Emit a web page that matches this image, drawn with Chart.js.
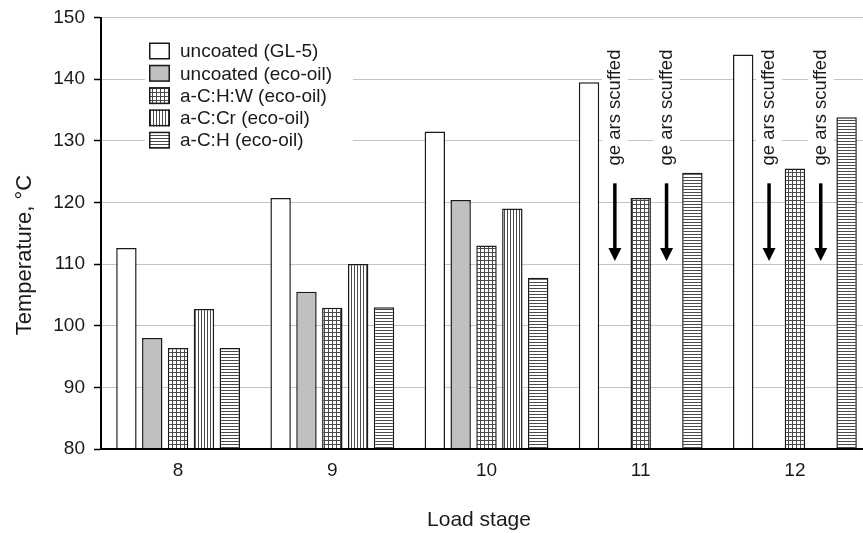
<!DOCTYPE html>
<html>
<head>
<meta charset="utf-8">
<title>Temperature vs load stage</title>
<script src="https://cdn.jsdelivr.net/npm/chart.js@4.4.1/dist/chart.umd.min.js"></script>
<style>
    html, body { margin: 0; padding: 0; background: #fff; overflow: hidden; }
    #chart-wrap { width: 875px; height: 533px; }
</style>
</head>
<body>
<div id="chart-wrap"><canvas id="temperature-chart" width="875" height="533"></canvas></div>
<script>
// Chart data
const loadStages = ['8', '9', '10', '11', '12'];
const seriesNames = ['uncoated (GL-5)', 'uncoated (eco-oil)', 'a-C:H:W (eco-oil)', 'a-C:Cr (eco-oil)', 'a-C:H (eco-oil)'];
const uncoatedGL5 = [112.6, 120.7, 131.5, 139.5, 144.0];
const uncoatedEco = [98.0, 105.5, 120.4, null, null];
const coatedCHW = [96.4, 102.9, 113.0, 120.7, 125.5];
const coatedCCr = [102.7, 110.0, 119.0, null, null];
const coatedCH = [96.4, 103.0, 107.8, 124.8, 133.8];
const yMin = 80;
const yMax = 150;
const yStep = 10;
const xTitle = 'Load stage';
const yTitle = 'Temperature, °C';

// Scuffing notes: [stage index, series index]
const scuffedLabel = 'ge ars scuffed';
const scuffedMarks = [[3, 1], [3, 3], [4, 1], [4, 3]];
const scuffedTextFrom = 126;
const arrowFrom = 123.1;
const arrowTo = 110.5;

const textColor = '#1a1a1a';
const fontFamily = '"Liberation Sans", Arial, sans-serif';

Chart.defaults.font.family = fontFamily;
Chart.defaults.color = textColor;

// Fill patterns like the old b/w chart
function makePattern(ctx, kind) {
    const size = kind === 'grid' ? 4 : 3;
    const c = document.createElement('canvas');
    c.width = size;
    c.height = size;
    const p = c.getContext('2d');
    p.fillStyle = '#fff';
    p.fillRect(0, 0, size, size);
    p.fillStyle = '#4a4a4a';
    if (kind === 'grid') {
        p.fillRect(0, 0, size, 1);
        p.fillRect(0, 0, 1, size);
    } else if (kind === 'vertical') {
        p.fillRect(0, 0, 1, size);
    } else if (kind === 'horizontal') {
        p.fillRect(0, 0, size, 1);
    }
    return ctx.createPattern(c, 'repeat');
}

// Legend inside the plot, with white background
const boxLegend = {
    id: 'boxLegend',
    afterDatasetsDraw(chart) {
        const ctx = chart.ctx;
        ctx.save();
        ctx.fillStyle = '#fff';
        ctx.fillRect(145, 30, 208, 122);
        chart.data.datasets.forEach((ds, i) => {
            const y = 51 + i * 22.3;
            ctx.fillStyle = ds.backgroundColor;
            ctx.fillRect(149, y - 8.5, 21, 17);
            ctx.strokeStyle = textColor;
            ctx.lineWidth = 1.5;
            ctx.strokeRect(149.75, y - 7.75, 19.5, 15.5);
            ctx.fillStyle = textColor;
            ctx.font = '19px ' + fontFamily;
            ctx.textBaseline = 'middle';
            ctx.textAlign = 'left';
            ctx.fillText(ds.label, 180, y + 1);
        });
        ctx.restore();
    }
};

// Axis titles (placed like in the original figure)
const axisTitles = {
    id: 'axisTitles',
    afterDraw(chart) {
        const ctx = chart.ctx;
        ctx.save();
        ctx.fillStyle = textColor;
        ctx.font = '21px ' + fontFamily;
        ctx.textAlign = 'center';
        ctx.textBaseline = 'middle';
        ctx.fillText(xTitle, 479, 520);
        ctx.translate(25, 255);
        ctx.rotate(-Math.PI / 2);
        ctx.font = '22px ' + fontFamily;
        ctx.fillText(yTitle, 0, 0);
        ctx.restore();
    }
};

// "gears scuffed" notes with arrows where a bar is missing
const scuffNotes = {
    id: 'scuffNotes',
    afterDatasetsDraw(chart) {
        const ctx = chart.ctx;
        const yScale = chart.scales.y;
        ctx.save();
        ctx.font = '18.5px ' + fontFamily;
        const textWidth = ctx.measureText(scuffedLabel).width;
        scuffedMarks.forEach(([stage, series]) => {
            const x = chart.getDatasetMeta(series).data[stage].x;
            const yText = yScale.getPixelForValue(scuffedTextFrom);

            // text (rotated) on a white box
            ctx.save();
            ctx.translate(x, yText);
            ctx.rotate(-Math.PI / 2);
            ctx.fillStyle = '#fff';
            ctx.fillRect(-2, -13, textWidth + 4, 26);
            ctx.fillStyle = textColor;
            ctx.textAlign = 'left';
            ctx.textBaseline = 'middle';
            ctx.fillText(scuffedLabel, 0, 0);
            ctx.restore();

            // arrow
            const yTop = yScale.getPixelForValue(arrowFrom);
            const yTip = yScale.getPixelForValue(arrowTo);
            ctx.strokeStyle = '#000';
            ctx.lineWidth = 3.5;
            ctx.beginPath();
            ctx.moveTo(x, yTop);
            ctx.lineTo(x, yTip - 10);
            ctx.stroke();
            ctx.fillStyle = '#000';
            ctx.beginPath();
            ctx.moveTo(x - 6.5, yTip - 13);
            ctx.lineTo(x + 6.5, yTip - 13);
            ctx.lineTo(x, yTip);
            ctx.closePath();
            ctx.fill();
        });

        // redraw x axis line over the bar bottoms
        const area = chart.chartArea;
        ctx.strokeStyle = '#000';
        ctx.lineWidth = 2;
        ctx.beginPath();
        ctx.moveTo(area.left - 1, area.bottom);
        ctx.lineTo(area.right + 2, area.bottom);
        ctx.stroke();
        ctx.restore();
    }
};

// Initialize chart
function initChart() {
    const canvas = document.getElementById('temperature-chart');
    const ctx = canvas.getContext('2d');

    const fills = [
        '#ffffff',
        '#c0c0c0',
        makePattern(ctx, 'grid'),
        makePattern(ctx, 'vertical'),
        makePattern(ctx, 'horizontal')
    ];
    const values = [uncoatedGL5, uncoatedEco, coatedCHW, coatedCCr, coatedCH];

    new Chart(ctx, {
        type: 'bar',
        data: {
            labels: loadStages,
            datasets: values.map((data, i) => ({
                label: seriesNames[i],
                data: data,
                backgroundColor: fills[i],
                borderColor: textColor,
                borderWidth: 1.5,
                borderSkipped: 'start',
                categoryPercentage: 0.838,
                barPercentage: 0.79
            }))
        },
        options: {
            responsive: false,
            animation: false,
            layout: {
                padding: { top: 17.5, right: 3, left: 0, bottom: 0 }
            },
            plugins: {
                legend: { display: false },
                tooltip: { enabled: false }
            },
            scales: {
                x: {
                    grid: { display: false, drawTicks: false },
                    border: { color: '#000', width: 2 },
                    ticks: {
                        padding: 10,
                        font: { size: 19 },
                        color: textColor
                    },
                    afterFit: function(scale) {
                        scale.height = 84;
                        scale.paddingLeft = 0;
                        scale.paddingRight = 0;
                    }
                },
                y: {
                    min: yMin,
                    max: yMax,
                    ticks: {
                        stepSize: yStep,
                        padding: 9,
                        font: { size: 19 },
                        color: textColor
                    },
                    grid: {
                        color: '#c4c4c4',
                        lineWidth: 1,
                        tickColor: '#000',
                        tickLength: 7,
                        tickWidth: 1.5
                    },
                    border: { color: '#000', width: 2 },
                    afterFit: function(scale) {
                        scale.width = 101;
                        scale.paddingTop = 0;
                        scale.paddingBottom = 0;
                    }
                }
            }
        },
        plugins: [boxLegend, scuffNotes, axisTitles]
    });
}

initChart();
</script>
</body>
</html>
